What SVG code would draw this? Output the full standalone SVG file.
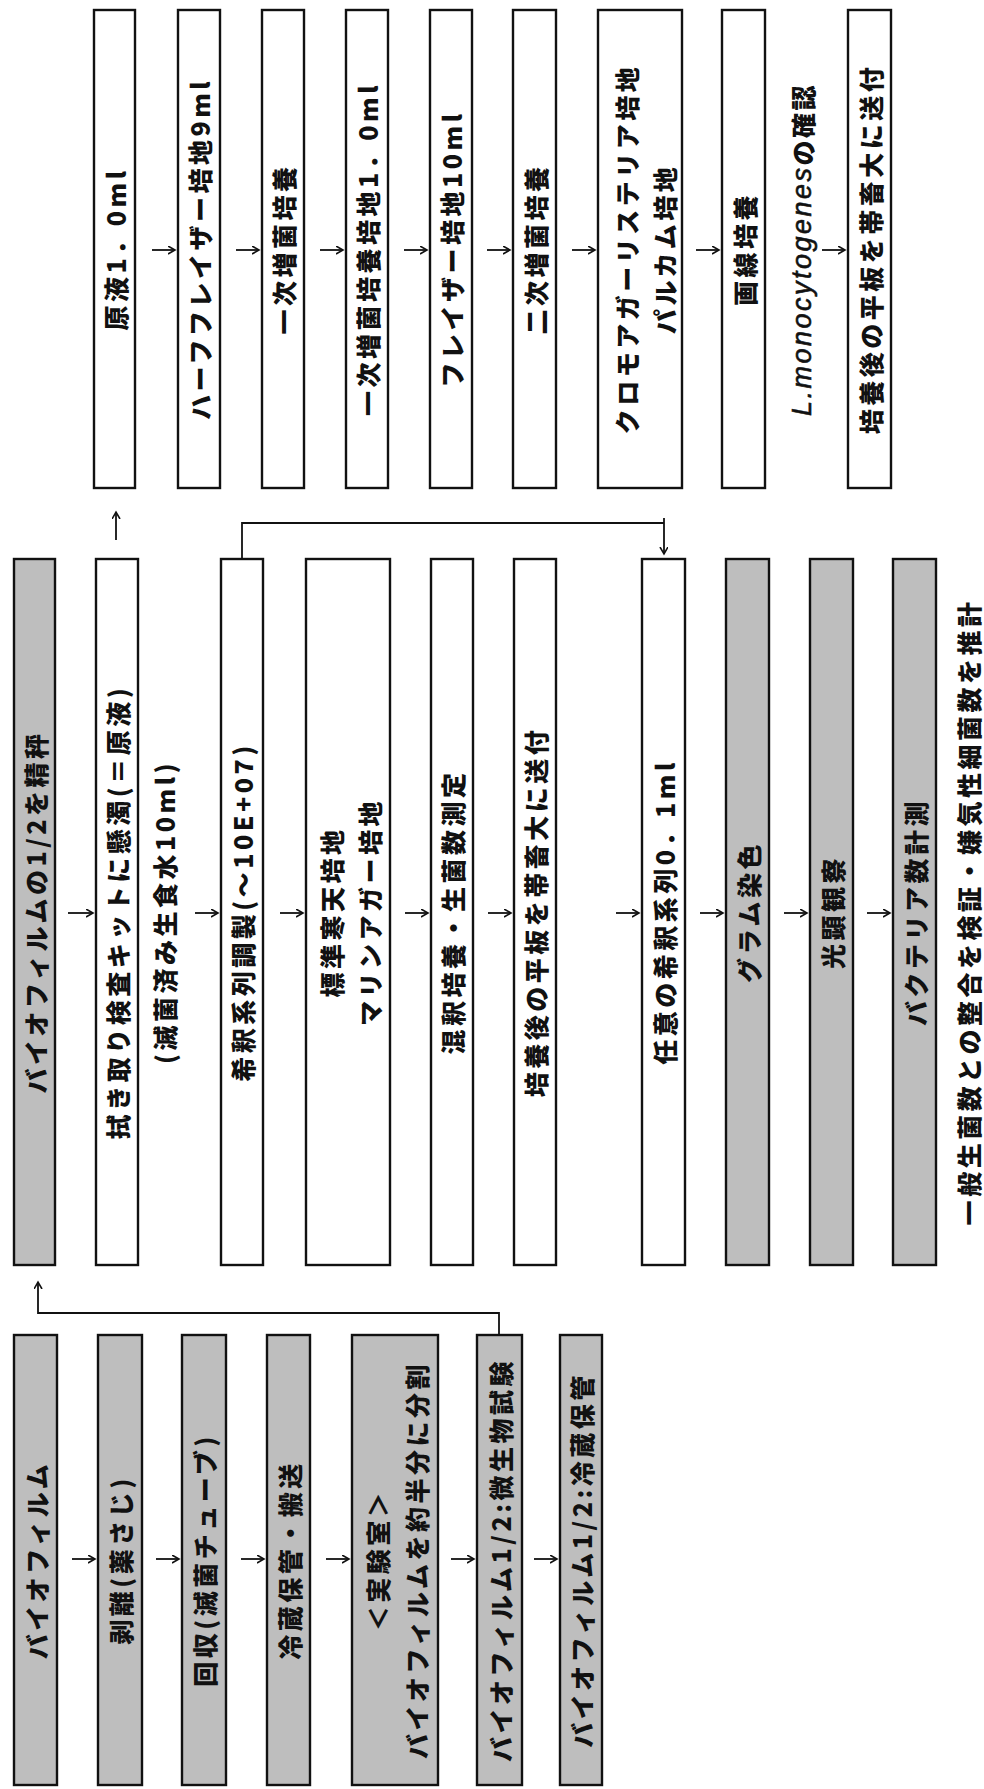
<svg xmlns="http://www.w3.org/2000/svg" width="984" height="1789" viewBox="0 0 984 1789">
<defs>
<style>
.bw{fill:#ffffff;stroke:#111;stroke-width:2.4}
.bg{fill:#bebebe;stroke:#111;stroke-width:2.4}
.t{font-family:"Noto Sans CJK JP","Noto Sans CJK SC",sans-serif;font-size:25px;font-weight:900;fill:#111;letter-spacing:3.5px;text-anchor:middle;dominant-baseline:central}
.it{font-family:"Liberation Sans",sans-serif;font-style:italic;font-weight:400;stroke:#111;stroke-width:0.6}
.ar{fill:none;stroke:#111;stroke-width:1.8;marker-end:url(#ah)}
.ln{fill:none;stroke:#111;stroke-width:1.8}
</style>
<marker id="ah" markerUnits="userSpaceOnUse" markerWidth="10" markerHeight="10" refX="7" refY="4" orient="auto">
<path d="M0,0 L7,4 L0,8" fill="none" stroke="#111" stroke-width="1.6"/>
</marker>
</defs>
<rect width="984" height="1789" fill="#ffffff"/>

<!-- Column C (top) -->
<g id="c1"><rect class="bw" x="94" y="10" width="41" height="478"/><text class="t" transform="translate(114.5,249) rotate(-90)">原液1．0ml</text></g>
<g id="c2"><rect class="bw" x="178" y="10" width="42" height="478"/><text class="t" transform="translate(199,249) rotate(-90)">ハーフフレイザー培地9ml</text></g>
<g id="c3"><rect class="bw" x="262" y="10" width="42" height="478"/><text class="t" transform="translate(283,249) rotate(-90)">一次増菌培養</text></g>
<g id="c4"><rect class="bw" x="346" y="10" width="42" height="478"/><text class="t" transform="translate(367,249) rotate(-90)">一次増菌培養培地1．0ml</text></g>
<g id="c5"><rect class="bw" x="430" y="10" width="42" height="478"/><text class="t" transform="translate(451,249) rotate(-90)">フレイザー培地10ml</text></g>
<g id="c6"><rect class="bw" x="513" y="10" width="43" height="478"/><text class="t" transform="translate(534.5,249) rotate(-90)">二次増菌培養</text></g>
<g id="c7"><rect class="bw" x="598" y="10" width="84" height="478"/><text class="t" transform="translate(626,249) rotate(-90)">クロモアガーリステリア培地</text><text class="t" transform="translate(664,249) rotate(-90)">パルカム培地</text></g>
<g id="c8"><rect class="bw" x="722" y="10" width="43" height="478"/><text class="t" transform="translate(743.5,249) rotate(-90)">画線培養</text></g>
<g id="c9"><text class="t" transform="translate(802,249) rotate(-90)" textLength="334" lengthAdjust="spacing"><tspan class="it" font-size="27">L.monocytogenes</tspan>の確認</text></g>
<g id="c10"><rect class="bw" x="848" y="10" width="43" height="478"/><text class="t" transform="translate(869.5,249) rotate(-90)">培養後の平板を帯畜大に送付</text></g>

<!-- Column B (middle) -->
<g id="b1"><rect class="bg" x="14" y="559" width="41" height="706"/><text class="t" transform="translate(34.5,912) rotate(-90)">バイオフィルムの1/2を精秤</text></g>
<g id="b2"><rect class="bw" x="96" y="559" width="42" height="706"/><text class="t" transform="translate(117,912) rotate(-90)">拭き取り検査キットに懸濁(＝原液)</text></g>
<g id="b2note"><text class="t" transform="translate(164,912) rotate(-90)">(滅菌済み生食水10ml)</text></g>
<g id="b3"><rect class="bw" x="221" y="559" width="42" height="706"/><text class="t" transform="translate(242,912) rotate(-90)">希釈系列調製(～10E+07)</text></g>
<g id="b4"><rect class="bw" x="306" y="559" width="84" height="706"/><text class="t" transform="translate(331,912) rotate(-90)">標準寒天培地</text><text class="t" transform="translate(369,912) rotate(-90)">マリンアガー培地</text></g>
<g id="b5"><rect class="bw" x="431" y="559" width="42" height="706"/><text class="t" transform="translate(452,912) rotate(-90)">混釈培養・生菌数測定</text></g>
<g id="b6"><rect class="bw" x="514" y="559" width="42" height="706"/><text class="t" transform="translate(535,912) rotate(-90)">培養後の平板を帯畜大に送付</text></g>
<g id="b7"><rect class="bw" x="642" y="559" width="43" height="706"/><text class="t" transform="translate(663.5,912) rotate(-90)">任意の希釈系列0．1ml</text></g>
<g id="b8"><rect class="bg" x="726" y="559" width="43" height="706"/><text class="t" transform="translate(747.5,912) rotate(-90)">グラム染色</text></g>
<g id="b9"><rect class="bg" x="810" y="559" width="43" height="706"/><text class="t" transform="translate(831.5,912) rotate(-90)">光顕観察</text></g>
<g id="b10"><rect class="bg" x="893" y="559" width="43" height="706"/><text class="t" transform="translate(914.5,912) rotate(-90)">バクテリア数計測</text></g>
<g id="b11"><text class="t" transform="translate(968,912) rotate(-90)">一般生菌数との整合を検証・嫌気性細菌数を推計</text></g>

<!-- Column A (bottom) -->
<g id="a1"><rect class="bg" x="14" y="1335" width="43" height="450"/><text class="t" transform="translate(35.5,1560) rotate(-90)">バイオフィルム</text></g>
<g id="a2"><rect class="bg" x="98" y="1335" width="44" height="450"/><text class="t" transform="translate(120,1560) rotate(-90)">剥離(薬さじ)</text></g>
<g id="a3"><rect class="bg" x="182" y="1335" width="44" height="450"/><text class="t" transform="translate(204,1560) rotate(-90)">回収(滅菌チューブ)</text></g>
<g id="a4"><rect class="bg" x="267" y="1335" width="43" height="450"/><text class="t" transform="translate(288.5,1560) rotate(-90)">冷蔵保管・搬送</text></g>
<g id="a5"><rect class="bg" x="352" y="1335" width="86" height="450"/><text class="t" transform="translate(377,1560) rotate(-90)">＜実験室＞</text><text class="t" transform="translate(416,1560) rotate(-90)">バイオフィルムを約半分に分割</text></g>
<g id="a6"><rect class="bg" x="477" y="1335" width="45" height="450"/><text class="t" transform="translate(499.5,1560) rotate(-90)">バイオフィルム1/2:微生物試験</text></g>
<g id="a7"><rect class="bg" x="560" y="1335" width="42" height="450"/><text class="t" transform="translate(581,1560) rotate(-90)">バイオフィルム1/2:冷蔵保管</text></g>

<!-- Connectors -->
<g id="connectors">
<line class="ar" x1="152" y1="250" x2="175" y2="250"/>
<line class="ar" x1="236" y1="250" x2="259" y2="250"/>
<line class="ar" x1="320" y1="250" x2="343" y2="250"/>
<line class="ar" x1="404" y1="250" x2="427" y2="250"/>
<line class="ar" x1="487" y1="250" x2="510" y2="250"/>
<line class="ar" x1="572" y1="250" x2="595" y2="250"/>
<line class="ar" x1="696" y1="250" x2="719" y2="250"/>
<line class="ar" x1="822" y1="250" x2="845" y2="250"/>

<line class="ar" x1="68" y1="913" x2="93" y2="913"/>
<line class="ar" x1="195" y1="913" x2="218" y2="913"/>
<line class="ar" x1="280" y1="913" x2="303" y2="913"/>
<line class="ar" x1="405" y1="913" x2="428" y2="913"/>
<line class="ar" x1="488" y1="913" x2="511" y2="913"/>
<line class="ar" x1="616" y1="913" x2="639" y2="913"/>
<line class="ar" x1="700" y1="913" x2="723" y2="913"/>
<line class="ar" x1="784" y1="913" x2="807" y2="913"/>
<line class="ar" x1="867" y1="913" x2="890" y2="913"/>

<line class="ar" x1="72" y1="1559" x2="95" y2="1559"/>
<line class="ar" x1="156" y1="1559" x2="179" y2="1559"/>
<line class="ar" x1="241" y1="1559" x2="264" y2="1559"/>
<line class="ar" x1="326" y1="1559" x2="349" y2="1559"/>
<line class="ar" x1="451" y1="1559" x2="474" y2="1559"/>
<line class="ar" x1="534" y1="1559" x2="557" y2="1559"/>

<line class="ar" x1="116" y1="540" x2="116" y2="512"/>
<path class="ar" d="M499,1335 V1313 H38 V1282"/>
<path class="ln" d="M242,559 V523 H664"/>
<line class="ar" x1="664" y1="518" x2="664" y2="554"/>
</g>
</svg>
